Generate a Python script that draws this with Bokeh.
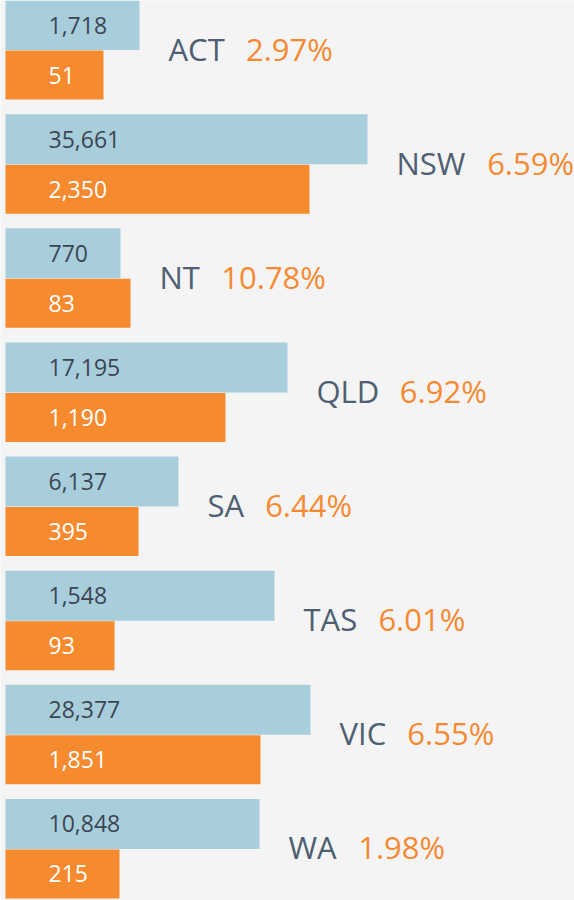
from bokeh.plotting import figure
from bokeh.models import ColumnDataSource, Range1d
from bokeh.core.properties import value
from bokeh.embed import file_html
from bokeh.resources import INLINE

# ---- data ----
states = ["ACT", "NSW", "NT", "QLD", "SA", "TAS", "VIC", "WA"]
blue_values = ["1,718", "35,661", "770", "17,195", "6,137", "1,548", "28,377", "10,848"]
orange_values = ["51", "2,350", "83", "1,190", "395", "93", "1,851", "215"]
percentages = ["2.97%", "6.59%", "10.78%", "6.92%", "6.44%", "6.01%", "6.55%", "1.98%"]
# bar lengths as drawn in the infographic (not proportional to the values)
blue_len = [134, 362, 115, 282, 173, 269, 305, 254]
orange_len = [98, 304, 125, 220, 133, 109, 255, 114]

W, H = 574, 900
ROW = 114.12          # pixels per row
TOP = 24.6            # pixel centre of first blue bar
BAR_H = 50 / ROW
LEFT = 5
FONT = "Open Sans"

BLUE = "#A8CEDC"
ORANGE = "#F68A2F"
STATE_COL = "#4E5F73"
PCT_COL = "#F68A33"
NUM_DARK = "#3C4553"

# approximate Open Sans advance widths (em) for label layout
ADV = {"A": 0.633, "C": 0.631, "T": 0.556, "N": 0.760, "S": 0.549, "W": 0.937,
       "Q": 0.779, "L": 0.507, "D": 0.725, "V": 0.600, "I": 0.279}
LABEL_PX = 31

idx = list(range(len(states)))
blue_y = [float(i) for i in idx]
orange_y = [i + BAR_H for i in idx]
mid_y = [i + BAR_H * 0.47 for i in idx]
blue_right = [LEFT + b for b in blue_len]
orange_right = [LEFT + o for o in orange_len]
label_x = [max(b, o) + 29 for b, o in zip(blue_right, orange_right)]
state_w = [sum(ADV.get(c, 0.6) for c in s) * LABEL_PX for s in states]
pct_x = [lx + w + 21 for lx, w in zip(label_x, state_w)]

src = ColumnDataSource(dict(
    state=states, bv=blue_values, ov=orange_values, pct=percentages,
    by=blue_y, oy=orange_y, my=mid_y,
    bl=[LEFT] * len(states), br=blue_right, orr=orange_right,
    lx=label_x, px=pct_x, nx=[LEFT + 43] * len(states),
))

p = figure(width=W, height=H, output_backend="svg", toolbar_location=None,
           x_range=Range1d(0, W),
           y_range=Range1d((H - TOP) / ROW, -TOP / ROW),
           min_border=0, min_border_left=0, min_border_right=0,
           min_border_top=0, min_border_bottom=0)
p.axis.visible = False
p.grid.visible = False
p.outline_line_color = None
p.background_fill_color = "#F4F4F4"
p.border_fill_color = "#F4F4F4"

p.hbar(y="by", left="bl", right="br", height=BAR_H, color=BLUE, line_color=None, source=src)
p.hbar(y="oy", left="bl", right="orr", height=BAR_H * 0.98, color=ORANGE, line_color=None, source=src)

p.text(x="nx", y="by", text="bv", source=src, text_font=value(FONT),
       text_font_size="23px", text_color=NUM_DARK, text_baseline="middle", text_align="left")
p.text(x="nx", y="oy", text="ov", source=src, text_font=value(FONT),
       text_font_size="23px", text_color="white", text_baseline="middle", text_align="left")

p.text(x="lx", y="my", text="state", source=src, text_font=value(FONT),
       text_font_size=f"{LABEL_PX}px", text_color=STATE_COL, text_baseline="middle", text_align="left")
p.text(x="px", y="my", text="pct", source=src, text_font=value(FONT),
       text_font_size=f"{LABEL_PX}px", text_color=PCT_COL, text_baseline="middle", text_align="left")

open("out.html", "w").write(file_html(p, INLINE))
